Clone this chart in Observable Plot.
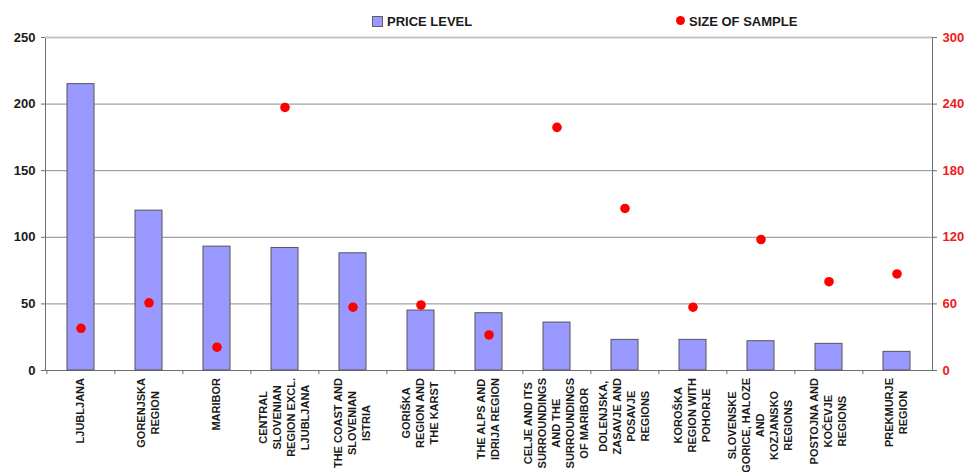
<!DOCTYPE html>
<html>
<head>
<meta charset="utf-8">
<script src="https://cdn.jsdelivr.net/npm/d3@7"></script>
<script src="https://cdn.jsdelivr.net/npm/@observablehq/plot@0.6"></script>
<style>
  body { margin: 0; background: #fff; }
  #chart { position: relative; width: 968px; height: 472px; overflow: hidden;
           font-family: "Liberation Sans", Arial, sans-serif; }
  .legend-item { position: absolute; top: 14px; line-height: 15px; font-size: 13px;
                 font-weight: bold; color: #1a1a1a; white-space: nowrap; }
  .swatch-bar { position: absolute; width: 9px; height: 9px; background: #9999ff;
                border: 1px solid #606060; }
  .swatch-dot { position: absolute; width: 9px; height: 9px; border-radius: 50%; background: #ff0000; }
</style>
</head>
<body>
<div id="chart">
  <div class="swatch-bar" style="left:372px;top:16px"></div>
  <div class="legend-item" style="left:387px">PRICE LEVEL</div>
  <div class="swatch-dot" style="left:676px;top:16px"></div>
  <div class="legend-item" style="left:689px">SIZE OF SAMPLE</div>
</div>
<script>
// Regions, in the order they are drawn
const regions = [
  "LJUBLJANA",
  "GORENJSKA\nREGION",
  "MARIBOR",
  "CENTRAL\nSLOVENIAN\nREGION EXCL.\nLJUBLJANA",
  "THE COAST AND\nSLOVENIAN\nISTRIA",
  "GORIŠKA\nREGION AND\nTHE KARST",
  "THE ALPS AND\nIDRIJA REGION",
  "CELJE AND ITS\nSURROUNDINGS\nAND THE\nSURROUNDINGS\nOF MARIBOR",
  "DOLENJSKA,\nZASAVJE AND\nPOSAVJE\nREGIONS",
  "KOROŠKA\nREGION WITH\nPOHORJE",
  "SLOVENSKE\nGORICE, HALOZE\nAND\nKOZJANSKO\nREGIONS",
  "POSTOJNA AND\nKOČEVJE\nREGIONS",
  "PREKMURJE\nREGION"
];

// Price level (left axis) and size of sample (right axis)
const priceLevel = [215, 120, 93, 92, 88, 45, 43, 36, 23, 23, 22, 20, 14];
const sampleSize = [38, 61, 21, 237, 57, 59, 32, 219, 146, 57, 118, 80, 87];

// Axis ticks
const priceTicks = [0, 50, 100, 150, 200, 250];
const sampleTicks = [0, 60, 120, 180, 240, 300];

const rows = regions.map((region, i) => ({region, price: priceLevel[i], sample: sampleSize[i]}));

// The sample axis shares the plot's y scale: 300 samples sit level with 250 price points
const priceMax = priceTicks[priceTicks.length - 1];
const sampleMax = sampleTicks[sampleTicks.length - 1];
const toPrice = (s) => s * priceMax / sampleMax;
const toSample = (p) => Math.round(p * sampleMax / priceMax);

const W = 968, H = 472;
const margin = {top: 37, right: 36, bottom: 102, left: 45};
const step = (W - margin.left - margin.right) / regions.length;
const axisGray = "#6e6e6e";

const chart = Plot.plot({
  width: W,
  height: H,
  marginTop: margin.top,
  marginRight: margin.right,
  marginBottom: margin.bottom,
  marginLeft: margin.left,
  style: {fontFamily: "'Liberation Sans', Arial, sans-serif", fontWeight: "bold", background: "transparent", overflow: "visible"},
  x: {domain: regions, paddingInner: 0.6, paddingOuter: 0.3, axis: null},
  y: {domain: [0, priceMax], axis: null},
  marks: [
    Plot.ruleY(priceTicks.filter((v) => v > 0 && v < priceMax), {stroke: "#8c8c8c", strokeWidth: 1}),
    Plot.frame({stroke: axisGray}),
    Plot.ruleY([priceMax], {stroke: "#c4c4c4", strokeWidth: 2}),
    Plot.barY(rows, {x: "region", y: "price", fill: "#9999ff", stroke: "#555", strokeWidth: 1}),
    Plot.dot(rows, {x: "region", y: (d) => toPrice(d.sample), r: 4.8, fill: "#ff0000"}),
    // left axis: price level
    Plot.axisY({anchor: "left", ticks: priceTicks, tickSize: 4, tickPadding: 6, label: null,
                fontSize: 13, color: "#1a1a1a", stroke: axisGray}),
    // right axis: size of sample
    Plot.axisY({anchor: "right", ticks: sampleTicks.map(toPrice), tickFormat: toSample,
                tickSize: 4, tickPadding: 6, label: null, fontSize: 13, color: "#f01818", stroke: axisGray}),
    // category boundary ticks along the bottom
    Plot.axisX({ticks: regions, tickSize: 4, tickFormat: () => "", dx: -step / 2, label: null, stroke: axisGray})
  ]
});

document.getElementById("chart").prepend(chart);

// Rotated region names: each block hangs just under the axis, lines centred on one another
const xScale = chart.scale("x");
const labelTop = H - margin.bottom + 8;
const lineStep = 14;
const names = d3.select(chart).append("g")
  .attr("font-size", 11)
  .attr("font-weight", "bold")
  .attr("fill", "#1a1a1a")
  .attr("text-anchor", "middle");

regions.forEach((region) => {
  const cx = xScale.apply(region) + xScale.bandwidth / 2;
  const lines = region.split("\n");
  const t = names.append("text");
  const spans = lines.map((line, i) =>
    t.append("tspan")
      .attr("x", 0)
      .attr("y", (i - (lines.length - 1) / 2) * lineStep)
      .attr("dy", "0.36em")
      .text(line)
  );
  const longest = d3.max(spans, (s) => s.node().getComputedTextLength());
  t.attr("transform", `translate(${cx},${labelTop + longest / 2}) rotate(-90)`);
});
</script>
</body>
</html>
